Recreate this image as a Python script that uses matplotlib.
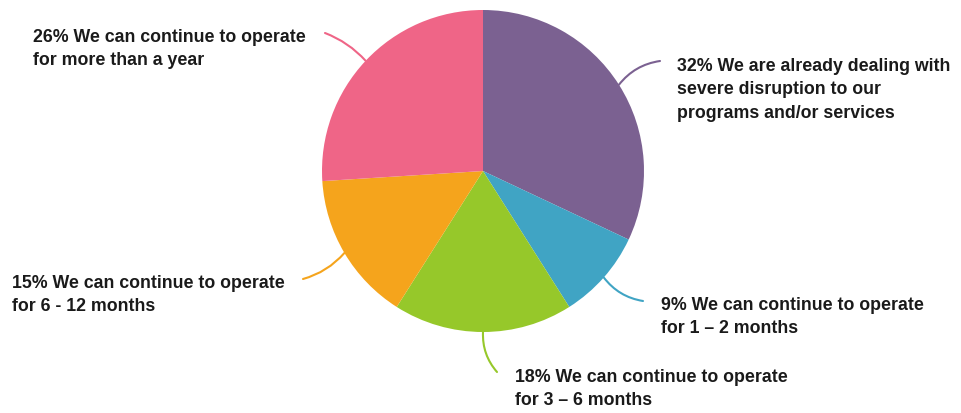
import matplotlib.pyplot as plt
import numpy as np

##---------------------------input data-------------------------------##
labels = ['32% We are already dealing with\nsevere disruption to our\nprograms and/or services',
          '9% We can continue to operate\nfor 1 \u2013 2 months',
          '18% We can continue to operate\nfor 3 \u2013 6 months',
          '15% We can continue to operate\nfor 6 - 12 months',
          '26% We can continue to operate\nfor more than a year']
shares = [32, 9, 18, 15, 26]
colors = ['#7b6191', '#40a4c4', '#96c82a', '#f5a41c', '#ef6587']

# label text anchor (pixels, top-left origin) and curve bend
text_pos = [(677, 90), (661, 317), (515, 389), (12, 295), (33, 49)]
line_end = [(660, 62), (643, 302), (497, 373), (303, 280), (325, 34)]
bend = [0.2, -0.2, -0.2, 0.15, -0.12]

W, H = 961, 414
cx, cy, r = 483, 172, 161

fig = plt.figure(figsize=(W / 100, H / 100), dpi=100)
ax = fig.add_axes([0, 0, 1, 1])

ax.pie(shares, colors=colors, startangle=90, counterclock=False,
       center=(cx, H - cy), radius=r, frame=True,
       wedgeprops=dict(linewidth=0))
ax.set_xlim(0, W)
ax.set_ylim(0, H)
ax.set_aspect('equal')
ax.axis('off')

start = 90.0
for i in range(len(shares)):
    sweep = shares[i] / sum(shares) * 360
    mid = np.radians(start - sweep / 2)
    start -= sweep
    px = cx + r * np.cos(mid)
    py = H - cy + r * np.sin(mid)
    ex, ey = line_end[i]
    ax.annotate('', xy=(px, py), xytext=(ex, H - ey),
                arrowprops=dict(arrowstyle='-', color=colors[i], lw=1.5,
                                shrinkA=0, shrinkB=0,
                                connectionstyle='arc3,rad=%s' % bend[i]))
    tx, ty = text_pos[i]
    ax.text(tx, H - ty, labels[i], ha='left', va='center', fontsize=12.8,
            fontweight='bold', family='Liberation Sans', color='#1a1a1a',
            linespacing=1.5)

plt.savefig('out.png', dpi=100)
